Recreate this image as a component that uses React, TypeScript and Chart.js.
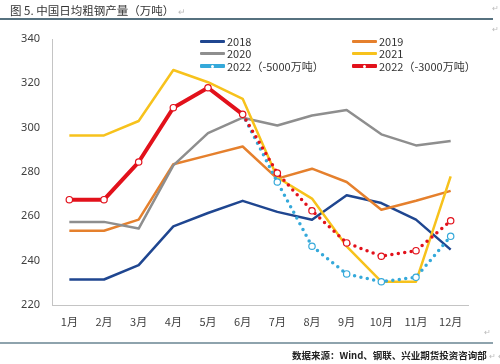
import React, { useEffect, useRef } from "react";
import { Chart, registerables } from "chart.js";

Chart.register(...registerables);

const months = ["1月", "2月", "3月", "4月", "5月", "6月", "7月", "8月", "9月", "10月", "11月", "12月"];
const yMin = 220;
const yMax = 340;
const yStep = 20;

const s2018 = [231.5, 231.5, 238, 255.5, 261.5, 267, 262, 258.5, 269.5, 266, 258.5, 245];
const s2019 = [253.5, 253.5, 258.5, 283.5, 287.5, 291.5, 277, 281.5, 275.5, 263, 267, 271.5];
const s2020 = [257.5, 257.5, 254.5, 283, 297.5, 304.5, 301, 305.5, 308, 297, 292, 294];
const s2021 = [296.5, 296.5, 303, 326, 320.5, 313, 277.5, 268, 246.5, 230.5, 230.5, 278];
const s2022a = [null, null, null, null, null, 306, 275.5, 246.5, 234, 230.5, 232.5, 251];
const s2022b = [267.5, 267.5, 284.5, 309, 318, 306, 279.5, 262.5, 248, 242, 244.5, 258];

const labels = ["2018", "2019", "2020", "2021", "2022（-5000万吨）", "2022（-3000万吨）"];
const colors = ["#1F4690", "#E5802D", "#8E8E8E", "#F7C21C", "#35A9DA", "#E2111B"];

const FONT = '"Noto Sans", "Noto Sans CJK SC", sans-serif';
const CJK = '"Noto Sans CJK SC", "Noto Sans", sans-serif';

export default function App() {
  const ref = useRef<HTMLCanvasElement | null>(null);

  useEffect(() => {
    if (!ref.current) return;
    const solid = (i: number, data: (number | null)[], order: number) => ({
      label: labels[i],
      data,
      borderColor: colors[i],
      backgroundColor: colors[i],
      borderWidth: 2.5,
      pointRadius: 0,
      tension: 0,
      borderJoinStyle: "round" as const,
      order,
    });
    const chart = new Chart(ref.current, {
      type: "line",
      data: {
        labels: months,
        datasets: [
          solid(0, s2018, 5),
          solid(1, s2019, 4),
          solid(2, s2020, 3),
          solid(3, s2021, 2),
          {
            label: labels[4],
            data: s2022a,
            borderColor: colors[4],
            backgroundColor: colors[4],
            borderWidth: 3.5,
            borderDash: [0, 6.5],
            borderCapStyle: "round",
            spanGaps: false,
            tension: 0,
            pointRadius: (ctx: any) => (ctx.dataIndex < 6 ? 0 : 3.2),
            pointBackgroundColor: "#ffffff",
            pointBorderColor: colors[4],
            pointBorderWidth: 1.2,
            order: 1,
          },
          {
            label: labels[5],
            data: s2022b,
            borderColor: colors[5],
            backgroundColor: colors[5],
            borderWidth: 4,
            borderCapStyle: "round",
            borderJoinStyle: "round",
            tension: 0,
            segment: {
              borderDash: (ctx: any) => (ctx.p0DataIndex >= 5 ? [0, 6.5] : undefined),
              borderWidth: (ctx: any) => (ctx.p0DataIndex >= 5 ? 3.5 : 4),
            },
            pointRadius: 3.2,
            pointBackgroundColor: "#ffffff",
            pointBorderColor: colors[5],
            pointBorderWidth: 1.2,
            order: 0,
          },
        ] as any,
      },
      options: {
        responsive: false,
        animation: false,
        layout: { padding: { top: 39, right: 32, left: 0, bottom: 0 } },
        plugins: { legend: { display: false }, tooltip: { enabled: false } },
        scales: {
          x: {
            offset: true,
            grid: { display: false, drawTicks: false },
            border: { display: true, color: "#c4c4c4", width: 1 },
            ticks: { padding: 10, color: "#404040", font: { size: 11, family: CJK } },
            afterFit: (s: any) => {
              s.height = 59;
            },
          },
          y: {
            min: yMin,
            max: yMax,
            grid: { display: false, drawTicks: false },
            border: { display: true, color: "#c4c4c4", width: 1 },
            ticks: { stepSize: yStep, padding: 12, color: "#404040", font: { size: 11, family: FONT } },
            afterFit: (s: any) => {
              s.width = 52;
            },
          },
        },
      } as any,
    });
    return () => chart.destroy();
  }, []);

  const legendItem = (i: number, x: number, y: number) => (
    <div
      key={i}
      style={{
        position: "absolute",
        left: x,
        top: y - 8,
        height: 16,
        display: "flex",
        alignItems: "center",
        whiteSpace: "nowrap",
        fontFamily: CJK,
        fontSize: 11,
        color: "#333",
      }}
    >
      <div
        style={{
          position: "relative",
          width: 25,
          height: i >= 4 ? 4 : 3,
          background: colors[i],
          marginRight: 2,
          borderRadius: 1,
        }}
      >
        {i >= 4 && (
          <div
            style={{
              position: "absolute",
              left: 11,
              top: 0.5,
              width: 3,
              height: 3,
              borderRadius: 2,
              background: "#fff",
            }}
          />
        )}
      </div>
      <span>{labels[i]}</span>
    </div>
  );

  return (
    <div style={{ position: "absolute", left: 0, top: 0, width: 500, height: 364, background: "#fff", overflow: "hidden" }}>
      <canvas ref={ref} width={500} height={364} style={{ display: "block", position: "absolute", left: 0, top: 0 }} />
      <div
        style={{
          position: "absolute",
          left: 10,
          top: 2,
          fontFamily: CJK,
          fontSize: 11.5,
          color: "#333",
          whiteSpace: "nowrap",
        }}
      >
        图 5. 中国日均粗钢产量（万吨）<span style={{ color: "#bbb", fontSize: 9, marginLeft: 4 }}>↵</span>
      </div>
      <div style={{ position: "absolute", left: 0, top: 18, width: 493, height: 1.5, background: "#56717f" }} />
      <div style={{ position: "absolute", left: 492, top: 2, color: "#bbb", fontSize: 8, fontFamily: FONT }}>↵</div>
      <div style={{ position: "absolute", left: 492, top: 23, color: "#bbb", fontSize: 8, fontFamily: FONT }}>↵</div>
      {legendItem(0, 200, 41)}
      {legendItem(1, 352, 41)}
      {legendItem(2, 200, 53)}
      {legendItem(3, 352, 53)}
      {legendItem(4, 200, 66)}
      {legendItem(5, 352, 66)}
      <div style={{ position: "absolute", left: 484, top: 326, color: "#bbb", fontSize: 8, fontFamily: FONT }}>↵</div>
      <div style={{ position: "absolute", left: 0, top: 342, width: 493, height: 2, background: "#8ea3ad" }} />
      <div
        style={{
          position: "absolute",
          left: 292,
          top: 348,
          fontFamily: CJK,
          fontSize: 9.5,
          fontWeight: 700,
          color: "#222",
          whiteSpace: "nowrap",
        }}
      >
        数据来源：Wind、钢联、兴业期货投资咨询部<span style={{ color: "#bbb", fontWeight: 400, fontSize: 8, marginLeft: 2 }}>↵ ↵</span>
      </div>
    </div>
  );
}
